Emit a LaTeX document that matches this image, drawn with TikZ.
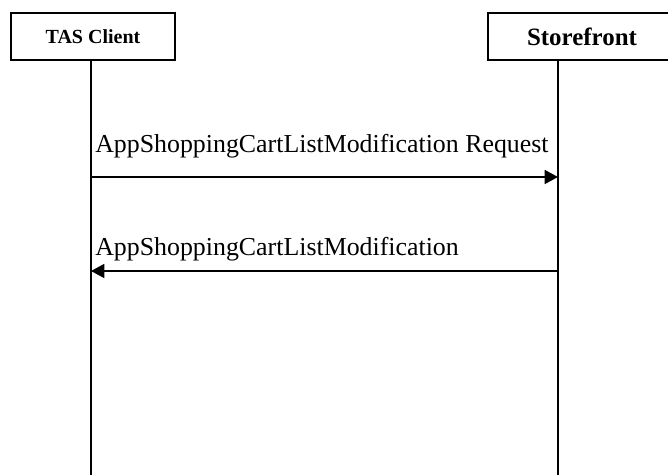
\documentclass[tikz,border=0pt]{standalone}
\usepackage{fontspec}
\setmainfont{Liberation Serif}
\usetikzlibrary{positioning, arrows.meta}

\begin{document}
\begin{tikzpicture}[
    x=0.75pt, y=-0.75pt,
    actor/.style={
        rectangle,
        draw=black,
        line width=1.4pt,
        minimum height=35.25pt,
        inner sep=0pt
    },
    line/.style={line width=1.4pt},
    msg/.style={-{Triangle[length=10pt,width=10.5pt]}, line width=1.2pt},
    lbl/.style={anchor=base west, inner sep=0pt, font=\fontsize{19.4}{22}\selectfont}
]
\useasboundingbox (0,0) rectangle (668,475);

\def\xa{91}
\def\xb{558}

% Actors
\node[actor, minimum width=123pt, font=\fontsize{15}{18}\selectfont\bfseries] (tas) at (93,36.5) {TAS Client};
\node[actor, minimum width=141pt, font=\fontsize{18.7}{22}\selectfont\bfseries] (sf) at (582,36.5) {Storefront};

% Lifelines
\coordinate (tasend) at (\xa,475);
\coordinate (sfend) at (\xb,475);
\draw[line] (tas.south -| tasend) -- (tasend);
\draw[line] (sf.south -| sfend) -- (sfend);

% Messages
\coordinate (tas1) at (\xa,177);
\coordinate (sf1) at (\xb,177);
\coordinate (tas2) at (\xa,271);
\coordinate (sf2) at (\xb,271);

\draw[msg] (tas1) -- (sf1);
\node[lbl] (m1) at ([shift={(4,-25)}]tas1) {AppShoppingCartListModification Request};

\draw[msg] (sf2) -- (tas2);
\node[lbl] (m2) at ([shift={(4,-16)}]tas2) {AppShoppingCartListModification};

\end{tikzpicture}
\end{document}
